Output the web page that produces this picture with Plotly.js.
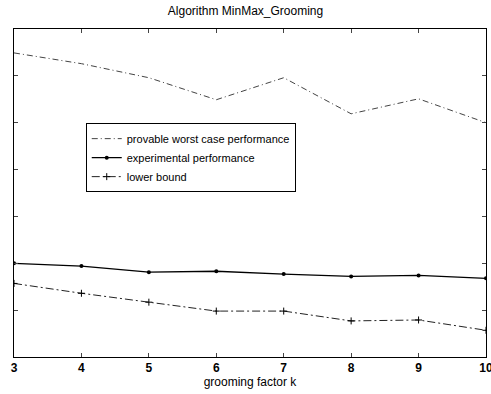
<!DOCTYPE html>
<html>
<head>
<meta charset="utf-8">
<script src="https://cdn.plot.ly/plotly-3.0.1.min.js"></script>
<style>html,body{margin:0;padding:0;background:#fff;}#chart{width:491px;height:394px;}</style>
</head>
<body>
<div id="chart"></div>
<script>
var kValues = [3, 4, 5, 6, 7, 8, 9, 10];
var worstCase = [6.49, 6.26, 5.96, 5.49, 5.96, 5.19, 5.51, 5.0];
var experimental = [2.0, 1.94, 1.81, 1.83, 1.77, 1.72, 1.74, 1.68];
var lowerBound = [1.57, 1.36, 1.17, 0.98, 0.98, 0.77, 0.79, 0.57];
var xTickLabels = ['3', '4', '5', '6', '7', '8', '9', '10'];

var traces = [
  {x: kValues, y: worstCase, mode: 'lines', name: 'provable worst case performance',
   line: {color: '#444', width: 1, dash: '6px,3px,1px,3px'}},
  {x: kValues, y: experimental, mode: 'lines+markers', name: 'experimental performance',
   line: {color: '#000', width: 1.3}, marker: {symbol: 'circle', size: 4, color: '#000'}},
  {x: kValues, y: lowerBound, mode: 'lines+markers', name: 'lower bound',
   line: {color: '#222', width: 1, dash: '8px,3px,2px,3px'},
   marker: {symbol: 'cross-thin', size: 5, line: {color: '#000', width: 1}}}
];

var layout = {
  width: 491, height: 394,
  margin: {l: 14, r: 5, t: 29, b: 37},
  paper_bgcolor: '#fff', plot_bgcolor: '#fff',
  font: {family: 'Liberation Sans, Arial, sans-serif', color: '#000', size: 11},
  title: {text: 'Algorithm MinMax_Grooming', x: 0.5, xanchor: 'center', y: 0.972, yanchor: 'middle',
          font: {size: 12, color: '#000'}},
  xaxis: {range: [3, 10], tickvals: kValues, ticktext: xTickLabels, ticks: 'inside', ticklen: 4,
          showgrid: false, zeroline: false, showline: true, linecolor: '#000', linewidth: 1, mirror: 'ticks',
          tickfont: {size: 12, color: '#000', weight: 'bold'}, ticklabeloverflow: 'allow',
          title: {text: 'grooming factor k', standoff: 2, font: {size: 12, color: '#000'}}},
  yaxis: {range: [0, 7], dtick: 1, ticks: 'inside', ticklen: 4, showticklabels: false,
          showgrid: false, zeroline: false, showline: true, linecolor: '#000', linewidth: 1, mirror: 'ticks'},
  showlegend: true,
  legend: {x: 0.152, y: 0.713, xanchor: 'left', yanchor: 'top', bgcolor: '#fff', bordercolor: '#000',
           borderwidth: 1, font: {size: 11, color: '#000'}, itemwidth: 30, tracegroupgap: 0}
};

Plotly.newPlot('chart', traces, layout, {displayModeBar: false, staticPlot: true});
</script>
</body>
</html>
